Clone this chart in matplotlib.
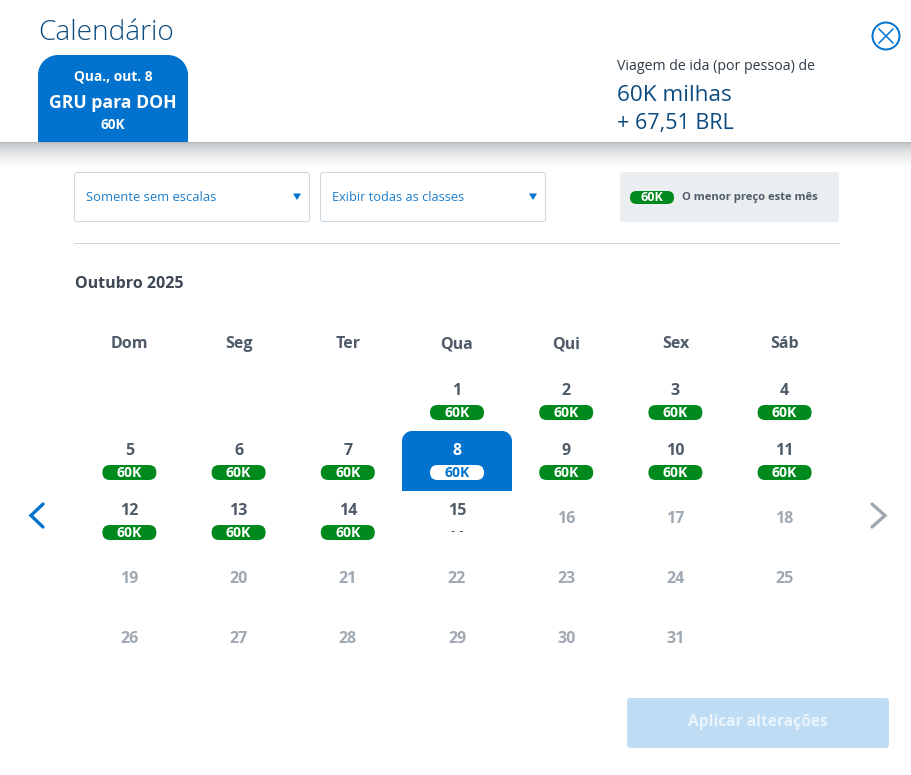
import numpy as np
import matplotlib
matplotlib.use("Agg")
import matplotlib.pyplot as plt
from matplotlib.patches import FancyBboxPatch, Circle, Polygon, PathPatch
from matplotlib.path import Path

plt.rcParams['font.family'] = ['Open Sans', 'Noto Sans', 'DejaVu Sans']

TITLE = "Calendário"
MONTH = "Outubro 2025"
WEEKDAYS = ["Dom", "Seg", "Ter", "Qua", "Qui", "Sex", "Sáb"]
FIRST_COL = 3
N_DAYS = 31
PRICES = {d: "60K" for d in range(1, 15)}
NO_PRICE_DAY = 15
SELECTED_DAY = 8
FILTERS = ["Somente sem escalas", "Exibir todas as classes"]

BLUE = "#0173CE"
NAVY = "#0B4B80"
GREEN = "#008A1E"
SLATE = "#4F5B69"
MUTED = "#A0A9B2"
BORDER = "#CBD8E2"

W, H = 912, 775
fig = plt.figure(figsize=(W / 100, H / 100), dpi=100, facecolor="white")
ax = fig.add_axes([0, 0, 1, 1])
ax.set_xlim(0, W)
ax.set_ylim(H, 0)
ax.axis("off")


def px(s):
    return s * 0.72


def txt(x, y, s, size, color, weight="normal", ha="center", **kw):
    return ax.text(x, y + 1.4, s, fontsize=px(size), color=color, fontweight=weight,
                   ha=ha, va="center", **kw)


def rrect(x, y, w, h, r, fc, ec="none", lw=0, z=2):
    p = FancyBboxPatch((x + r, y + r), w - 2 * r, h - 2 * r,
                       boxstyle=f"round,pad={r},rounding_size={r}",
                       fc=fc, ec=ec, lw=lw, zorder=z)
    ax.add_patch(p)
    return p


def top_round(x, y, w, h, r, fc, z=2):
    k = 0.5523 * r
    v = [(x, y + h), (x, y + r), (x, y + r - k), (x + r - k, y), (x + r, y),
         (x + w - r, y), (x + w - r + k, y), (x + w, y + r - k), (x + w, y + r),
         (x + w, y + h), (x, y + h)]
    c = [Path.MOVETO, Path.LINETO, Path.CURVE4, Path.CURVE4, Path.CURVE4,
         Path.LINETO, Path.CURVE4, Path.CURVE4, Path.CURVE4, Path.LINETO, Path.CLOSEPOLY]
    ax.add_patch(PathPatch(Path(v, c), fc=fc, ec="none", zorder=z))


# header shadow
grad = np.linspace(0, 1, 26) ** 0.55
shade = np.empty((26, 1, 3))
base = np.array([0.71, 0.73, 0.75])
for i in range(3):
    shade[:, 0, i] = base[i] + (1 - base[i]) * grad
ax.imshow(shade, extent=(0, W, 168, 142), aspect="auto", zorder=1, interpolation="bilinear")
ax.set_xlim(0, W)
ax.set_ylim(H, 0)

# header
txt(38.5, 32, TITLE, 28, NAVY, weight="light", ha="left")
top_round(38, 55, 150, 87, 20, BLUE)
txt(113, 75, "Qua., out. 8", 13.8, "white", "bold")
txt(113, 102, "GRU para DOH", 17.6, "white", "bold")
txt(113, 124, "60K", 13.5, "white", "bold")
txt(617, 65.5, "Viagem de ida (por pessoa) de", 14.1, "#2F3B47", ha="left")
txt(617, 94, "60K milhas", 22.5, NAVY, ha="left")
txt(617, 122, "+ 67,51 BRL", 21.5, NAVY, ha="left")

# close icon
ax.add_patch(Circle((886, 36), 13.5, fc="white", ec=BLUE, lw=1.4, zorder=3))
for dx in (-1, 1):
    ax.plot([886 - 7, 886 + 7], [36 - 7 * dx, 36 + 7 * dx], color=BLUE, lw=1.1, zorder=4)

# filters
for x0, w, label, fs in zip((74, 320), (236, 226), FILTERS, (13, 12.7)):
    rrect(x0 + 0.5, 172.5, w - 1, 49, 2.5, "white", BORDER, 0.72)
    txt(x0 + 12, 196, label, fs, "#1F7FCC", ha="left")
    tx = x0 + w - 13
    ax.add_patch(Polygon([(tx - 4, 193.5), (tx + 4, 193.5), (tx, 200)], fc=BLUE, ec="none", zorder=3))

# legend
rrect(620, 172, 219, 50, 3, "#EBEEF0")
rrect(630, 191, 44, 13, 6.5, GREEN, z=3)
txt(652, 196.5, "60K", 12.5, "white", "bold", zorder=4)
txt(682, 196, "O menor preço este mês", 11.3, SLATE, "bold", ha="left")

ax.plot([74, 839], [242.5, 242.5], color=BORDER, lw=0.72)
txt(75, 283, MONTH, 16, "#3D4854", "bold", ha="left")

# calendar
COL0, COLW = 129.4, 109.2
ROW0, ROWH = 389.5, 60
for i, d in enumerate(WEEKDAYS):
    txt(COL0 + i * COLW, 343, d, 16, SLATE, "bold")

for day in range(1, N_DAYS + 1):
    cell = day - 1 + FIRST_COL
    col, row = cell % 7, cell // 7
    cx = COL0 + col * COLW
    cy = ROW0 + row * ROWH
    if day == SELECTED_DAY:
        top_round(cx - 55, cy - 18.5, 110, 60, 10, BLUE, z=2)
        num_c, pill, ptext = "white", "white", BLUE
    else:
        num_c, pill, ptext = SLATE, GREEN, "white"
    if day in PRICES:
        txt(cx, cy, str(day), 16, num_c, "bold", zorder=4)
        rrect(cx - 27, cy + 15.5, 54, 15, 7.5, pill, z=3)
        txt(cx, cy + 22, PRICES[day], 14, ptext, "bold", zorder=4)
    elif day == NO_PRICE_DAY:
        txt(cx, cy, str(day), 16, num_c, "bold", zorder=4)
        ax.text(cx, cy + 22, "- -", fontsize=px(12), color=SLATE, ha="center", va="center",
                family="DejaVu Sans", zorder=4)
    else:
        txt(cx, cy + 8, str(day), 16, MUTED, "bold", zorder=4)

# arrows
ax.plot([43, 31, 43], [504, 515.5, 527], color=BLUE, lw=2.4, solid_capstyle="round", solid_joinstyle="miter")
ax.plot([872, 885, 872], [504, 515.5, 527], color=MUTED, lw=2.4, solid_capstyle="round", solid_joinstyle="miter")

# apply button
rrect(627, 698, 262, 50, 3, "#BFDCF5")
txt(758, 721, "Aplicar alterações", 15.5, "#EAF4FC", "bold")

fig.savefig("out.png", dpi=100, facecolor="white")
